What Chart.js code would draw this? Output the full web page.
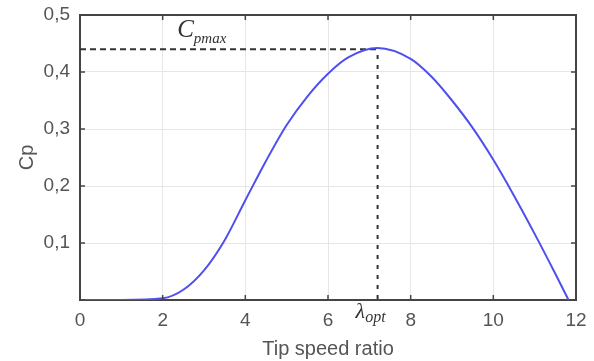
<!DOCTYPE html>
<html>
<head>
<meta charset="utf-8">
<script src="https://cdn.jsdelivr.net/npm/chart.js@4.4.1/dist/chart.umd.min.js"></script>
<style>
  html, body { margin: 0; padding: 0; background: #fff; }
  #wrap { width: 594px; height: 361px; }
</style>
</head>
<body>
<div id="wrap"><canvas id="cpChart"></canvas></div>
<script>
// Power coefficient vs tip speed ratio
const tsr = [0, 1, 2, 2.5, 3, 3.5, 4, 4.5, 5, 5.5, 6, 6.5, 7.2, 8, 8.5, 9, 9.5, 10, 10.5, 11, 11.5, 11.82];
const cp = [0, 0, 0.003, 0.018, 0.052, 0.105, 0.175, 0.244, 0.307, 0.357, 0.397, 0.426, 0.442, 0.423, 0.392, 0.35, 0.302, 0.246, 0.183, 0.116, 0.046, 0];

// optimum point
const lambdaOpt = 7.2;
const cpMax = 0.44;

const xTicks = [0, 2, 4, 6, 8, 10, 12];
const yTicks = [0, 0.1, 0.2, 0.3, 0.4, 0.5];

const axisColor = '#444';
const labelColor = '#555';

// frame, inward tick marks and the italic annotations
const framePlugin = {
    id: 'frame',
    afterDatasetsDraw(chart) {
        const { ctx, chartArea: a, scales } = chart;
        const xs = scales.x, ys = scales.y;
        ctx.save();
        ctx.strokeStyle = axisColor;
        ctx.lineWidth = 2;
        ctx.beginPath();
        ctx.moveTo(a.left, a.top);
        ctx.lineTo(a.right, a.top);
        ctx.lineTo(a.right, a.bottom);
        ctx.stroke();

        ctx.lineWidth = 1.5;
        ctx.beginPath();
        xTicks.forEach(v => {
            const px = xs.getPixelForValue(v);
            ctx.moveTo(px, a.bottom); ctx.lineTo(px, a.bottom - 5);
            ctx.moveTo(px, a.top); ctx.lineTo(px, a.top + 5);
        });
        yTicks.forEach(v => {
            const py = ys.getPixelForValue(v);
            ctx.moveTo(a.left, py); ctx.lineTo(a.left + 5, py);
            ctx.moveTo(a.right, py); ctx.lineTo(a.right - 5, py);
        });
        ctx.stroke();

        // C_pmax
        ctx.fillStyle = '#333';
        ctx.textBaseline = 'alphabetic';
        const cx = xs.getPixelForValue(2.35);
        const cy = ys.getPixelForValue(cpMax) - 12;
        ctx.font = 'italic 25px "Liberation Serif", "DejaVu Serif", serif';
        ctx.fillText('C', cx, cy);
        const cw = ctx.measureText('C').width;
        ctx.font = 'italic 15px "Liberation Serif", "DejaVu Serif", serif';
        ctx.fillText('pmax', cx + cw, cy + 6);

        // lambda_opt
        const lx = xs.getPixelForValue(lambdaOpt) - 22;
        const ly = a.bottom + 18;
        ctx.font = 'italic 22px "Liberation Serif", "DejaVu Serif", serif';
        ctx.fillText('λ', lx, ly);
        const lw = ctx.measureText('λ').width;
        ctx.font = 'italic 16px "Liberation Serif", "DejaVu Serif", serif';
        ctx.fillText('opt', lx + lw, ly + 4);
        ctx.restore();
    }
};

new Chart(document.getElementById('cpChart'), {
    type: 'line',
    data: {
        datasets: [{
            label: 'Cp',
            data: tsr.map((x, i) => ({ x: x, y: cp[i] })),
            borderColor: '#4f4ff0',
            borderWidth: 2,
            pointRadius: 0,
            cubicInterpolationMode: 'monotone',
            fill: false
        }, {
            label: 'Cp max',
            data: [{ x: 0, y: cpMax }, { x: lambdaOpt, y: cpMax }],
            borderColor: '#333',
            borderWidth: 2,
            borderDash: [6, 4],
            pointRadius: 0
        }, {
            label: 'lambda opt',
            data: [{ x: lambdaOpt, y: cpMax - 0.01 }, { x: lambdaOpt, y: 0 }],
            borderColor: '#333',
            borderWidth: 2,
            borderDash: [4, 6],
            pointRadius: 0
        }]
    },
    options: {
        responsive: true,
        maintainAspectRatio: false,
        animation: false,
        layout: { padding: { top: 15, right: 18, left: 0, bottom: 0 } },
        plugins: {
            legend: { display: false },
            tooltip: { enabled: false }
        },
        scales: {
            x: {
                type: 'linear',
                min: 0,
                max: 12,
                afterBuildTicks: scale => { scale.ticks = xTicks.map(v => ({ value: v })); },
                afterFit: scale => {
                    scale.height = 61;
                    scale.paddingLeft = 0;
                    scale.paddingRight = 0;
                },
                grid: { color: '#e6e6e6', drawTicks: false },
                border: { color: axisColor, width: 2 },
                ticks: {
                    padding: 9,
                    color: labelColor,
                    font: { family: '"Liberation Sans", Arial, sans-serif', size: 19 }
                },
                title: {
                    display: true,
                    text: 'Tip speed ratio',
                    color: labelColor,
                    padding: { top: 2, bottom: 0 },
                    font: { family: '"Liberation Sans", Arial, sans-serif', size: 20 }
                }
            },
            y: {
                min: 0,
                max: 0.5,
                afterBuildTicks: scale => { scale.ticks = yTicks.map(v => ({ value: v })); },
                afterFit: scale => {
                    scale.width = 80;
                    scale.paddingTop = 0;
                    scale.paddingBottom = 0;
                },
                grid: { color: '#e6e6e6', drawTicks: false },
                border: { color: axisColor, width: 2 },
                ticks: {
                    padding: 10,
                    color: labelColor,
                    font: { family: '"Liberation Sans", Arial, sans-serif', size: 19 },
                    callback: v => v === 0 ? '' : v.toFixed(1).replace('.', ',')
                },
                title: {
                    display: true,
                    text: 'Cp',
                    color: labelColor,
                    padding: { top: 15, bottom: 0 },
                    font: { family: '"Liberation Sans", Arial, sans-serif', size: 20 }
                }
            }
        }
    },
    plugins: [framePlugin]
});
</script>
</body>
</html>
